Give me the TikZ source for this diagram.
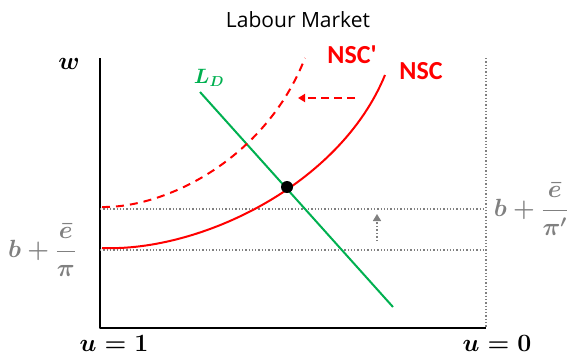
\documentclass[tikz,border=0pt]{standalone}
\usepackage{amsmath}
\usepackage{fontspec}
\newfontfamily\calibri{Carlito}
\newfontfamily\titlefont{Open Sans}
\usetikzlibrary{arrows.meta, positioning}
\definecolor{nscred}{RGB}{255,0,0}
\definecolor{ldgreen}{RGB}{0,176,80}
\definecolor{labgray}{RGB}{128,128,128}

\begin{document}
\begin{tikzpicture}[
x=1pt, y=-1pt,
axis/.style={
draw=black,
line width=2.2pt,
line join=round
},
guide/.style={
draw=labgray,
dotted,
line width=1.3pt
},
curve/.style={
draw=nscred,
line width=2pt
},
mathlabel/.style={
font=\fontsize{25}{28}\selectfont\boldmath,
inner sep=0pt
},
curvelabel/.style={
font=\fontsize{26}{28}\selectfont\calibri\bfseries,
text=nscred,
inner sep=0pt
},
shiftarrow/.style={
-{Triangle[length=7pt,width=8pt]},
line width=1.8pt,
dashed
}
]

\useasboundingbox (0,0) rectangle (570,354);

% axes
\coordinate (top) at (100,58);
\coordinate (origin) at (100,328);
\coordinate (right) at (486,328);
\coordinate (righttop) at (486,58);

\draw [guide] (righttop) -- (right);
\draw [axis] (top) -- (origin) -- (right);

% guide lines for the two reservation levels
\coordinate (hi) at (100,209);
\coordinate (hiend) at (486,209);
\coordinate (lo) at (100,250);
\coordinate (loend) at (486,250);
\draw [guide] (hi) -- (hiend);
\draw [guide] (lo) -- (loend);

% labour demand
\coordinate (ldtop) at (200,92);
\coordinate (ldbot) at (393,307);
\draw [draw=ldgreen, line width=2pt] (ldtop) -- (ldbot);

% no-shirking conditions
\coordinate (nscstart) at (102,248);
\coordinate (nscend) at (385,75);
\draw [curve] (nscstart) .. controls (200,252) and (340,185) .. (nscend);

\coordinate (nscpstart) at (102,207);
\coordinate (nscpend) at (305,58);
\draw [curve, dash pattern=on 8pt off 6pt]
(nscpstart) .. controls (165,208) and (265,160) .. (nscpend);

% equilibrium
\node (eq) [circle, fill=black, inner sep=0pt, minimum size=12pt] at (287,187) {};

% shifts
\coordinate (shiftfrom) at (355,98);
\coordinate (shiftto) at (298,98);
\draw [shiftarrow, draw=nscred, dash pattern=on 8pt off 5pt] (shiftfrom) -- (shiftto);

\coordinate (upfrom) at (377,241);
\coordinate (upto) at (377,214);
\draw [-{Triangle[length=7pt,width=8pt]}, draw=labgray, line width=1.5pt, dotted] (upfrom) -- (upto);

% labels
\node (title) at (298,20) {\fontsize{21}{24}\selectfont\titlefont Labour Market};
\node (w) [mathlabel] at (69,64) {$w$};
\node (ld) [mathlabel, text=ldgreen, font=\fontsize{20}{22}\selectfont\boldmath] at (209,78) {$L_D$};
\node (nscp) [curvelabel] at (352,55) {NSC'};
\node (nsc) [curvelabel] at (421,71) {NSC};
\node (blo) [mathlabel, text=labgray] at (42,250) {$b+\dfrac{\bar{e}}{\pi}$};
\node (bhi) [mathlabel, text=labgray] at (531,209) {$b+\dfrac{\bar{e}}{\pi'}$};
\node (u1) [mathlabel] at (114,343) {$u=1$};
\node (u0) [mathlabel] at (497,343) {$u=0$};

\end{tikzpicture}
\end{document}
